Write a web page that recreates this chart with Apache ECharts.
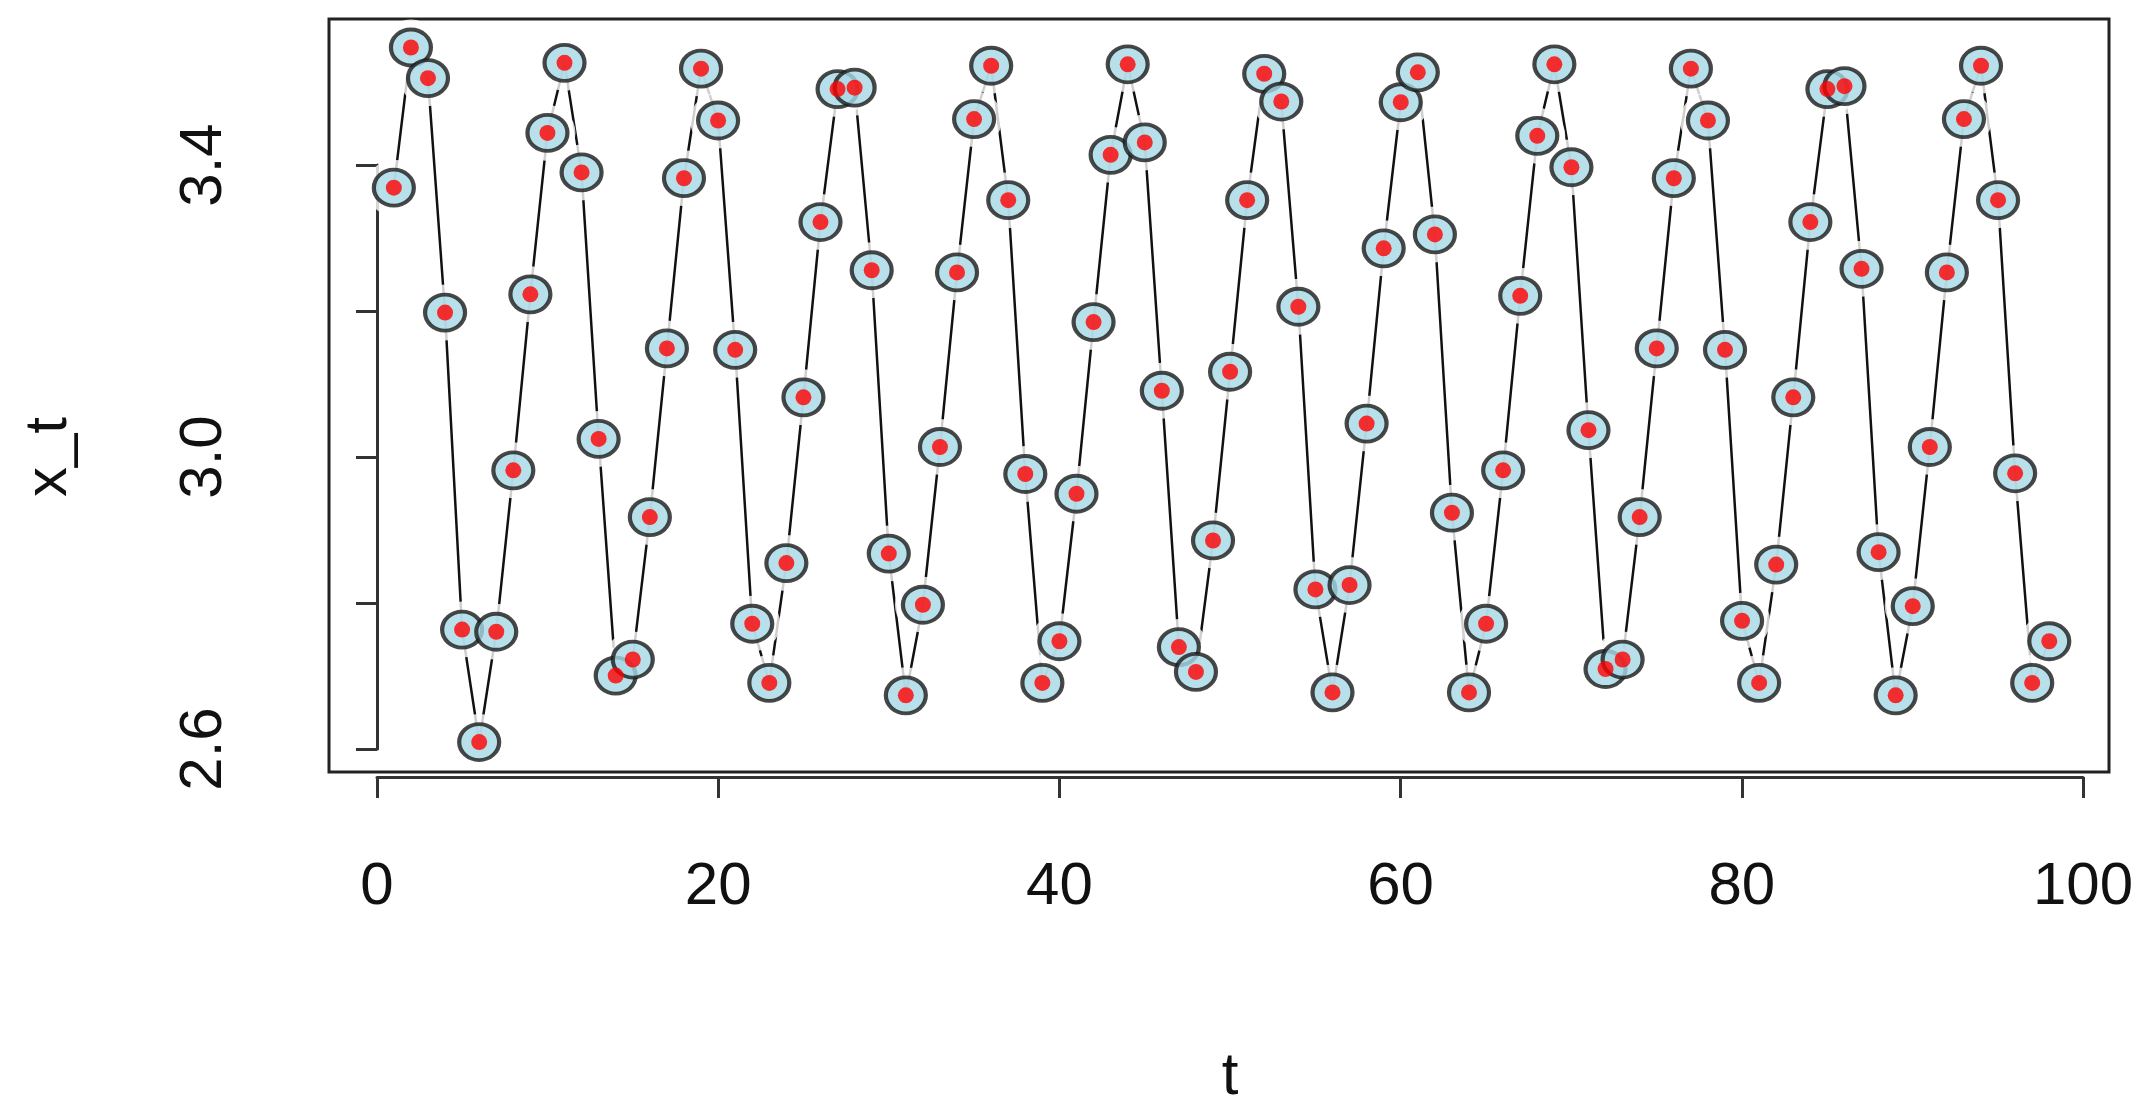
<!DOCTYPE html>
<html><head><meta charset="utf-8">
<script src="https://cdn.jsdelivr.net/npm/echarts@6/dist/echarts.min.js"></script>
<style>html,body{margin:0;padding:0;background:#fff}#c{width:2151px;height:1105px}</style>
</head><body><div id="c"></div>
<script>
const tValues = Array.from({length: 98}, (_, i) => i + 1);
const xValues = [3.368,3.56,3.518,3.197,2.763,2.609,2.76,2.981,3.222,3.443,
3.539,3.389,3.024,2.70,2.722,2.917,3.148,3.381,3.531,3.46,
3.146,2.771,2.69,2.854,3.081,3.321,3.503,3.505,3.255,2.867,
2.673,2.797,3.013,3.252,3.462,3.535,3.351,2.976,2.69,2.747,
2.949,3.184,3.413,3.537,3.43,3.09,2.739,2.705,2.885,3.116,
3.351,3.524,3.486,3.205,2.818,2.677,2.824,3.045,3.285,3.485,
3.526,3.304,2.923,2.677,2.771,2.981,3.22,3.439,3.537,3.396,
3.036,2.709,2.722,2.917,3.148,3.381,3.531,3.46,3.146,2.775,
2.69,2.852,3.081,3.321,3.503,3.507,3.257,2.869,2.673,2.795,
3.013,3.252,3.462,3.535,3.351,2.977,2.69,2.747];
const xTicks = [0, 20, 40, 60, 80, 100];
const yTicks = [2.6, 3.0, 3.4];

const pts = tValues.map((t, i) => [t, xValues[i]]);
const font = 'Liberation Sans, Arial, sans-serif';
const chart = echarts.init(document.getElementById('c'));
chart.setOption({
  animation: false,
  backgroundColor: '#fff',
  grid: [
    {left: 329, right: 42, top: 19, bottom: 333, show: true, borderColor: '#222', borderWidth: 3, backgroundColor: 'transparent', outerBoundsMode: 'none', containLabel: false},
    {left: 377, right: 68, top: 165, bottom: 356, show: false, outerBoundsMode: 'none', containLabel: false}
  ],
  xAxis: [
    {gridIndex: 0, type: 'value', min: -2.8, max: 101.5, show: false},
    {gridIndex: 1, type: 'value', min: 0, max: 100, interval: 20, position: 'bottom', offset: 28,
     name: 't', nameLocation: 'middle', nameGap: 270, nameTextStyle: {fontSize: 60, fontFamily: font, color: '#111'},
     axisLine: {show: true, lineStyle: {color: '#333', width: 3}},
     axisTick: {show: true, length: 21, lineStyle: {color: '#333', width: 3}},
     axisLabel: {fontSize: 60, fontFamily: font, color: '#111', margin: 80,
       formatter: v => xTicks.includes(v) ? String(v) : ''},
     splitLine: {show: false}}
  ],
  yAxis: [
    {gridIndex: 0, type: 'value', min: 2.568, max: 3.599, show: false},
    {gridIndex: 1, type: 'value', min: 2.6, max: 3.4, interval: 0.2, position: 'left', offset: 48,
     name: 'x_t', nameLocation: 'middle', nameGap: 250, nameRotate: 90, nameTextStyle: {fontSize: 60, fontFamily: font, color: '#111'},
     axisLine: {show: true, lineStyle: {color: '#333', width: 3}},
     axisTick: {show: true, length: 21, lineStyle: {color: '#333', width: 3}},
     axisLabel: {fontSize: 60, fontFamily: font, color: '#111', rotate: 90, margin: 95,
       formatter: v => yTicks.some(y => Math.abs(v - y) < 1e-6) ? v.toFixed(1) : ''},
     splitLine: {show: false}}
  ],
  series: [
    {type: 'line', xAxisIndex: 0, yAxisIndex: 0, data: pts, symbol: 'none', lineStyle: {color: '#111', width: 2.5}, z: 1},
    {type: 'scatter', xAxisIndex: 0, yAxisIndex: 0, data: pts, symbolSize: 56, itemStyle: {color: '#fff'}, z: 2, silent: true},
    {type: 'scatter', xAxisIndex: 0, yAxisIndex: 0, data: pts, symbolSize: [40, 36], itemStyle: {color: '#a6d8e6', borderColor: '#1a1a1a', borderWidth: 4}, z: 3},
    {type: 'scatter', xAxisIndex: 0, yAxisIndex: 0, data: pts, symbolSize: 16, itemStyle: {color: '#ff0000'}, z: 4}
  ]
});
</script></body></html>
